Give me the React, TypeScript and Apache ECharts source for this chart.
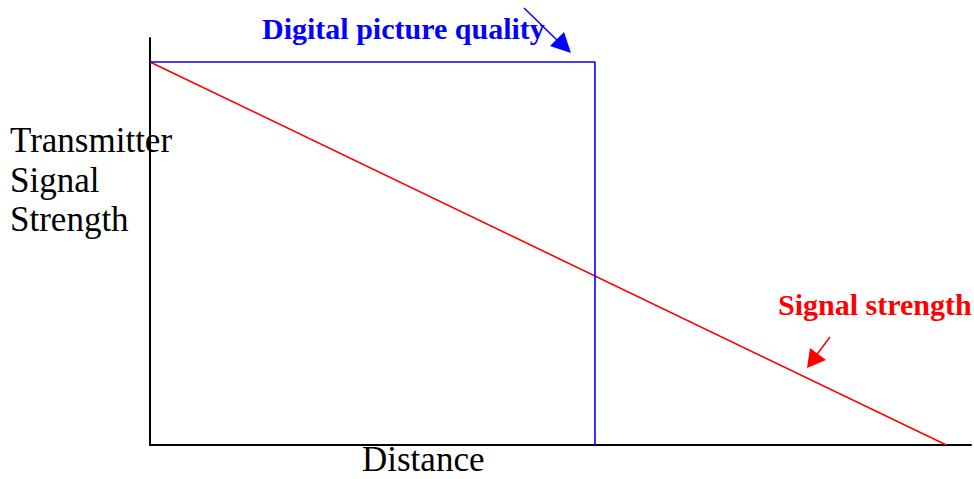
import React, { useEffect, useRef } from "react";
import * as echarts from "echarts";

// Data
const qualityDistance = [0, 54.2, 54.2];
const qualityValues = [16, 16, 0];
const signalDistance = [0, 97];
const signalValues = [16, 0];
const yLabelLines = ["Transmitter", "Signal", "Strength"];
const xLabel = "Distance";
const qualityLabel = "Digital picture quality";
const signalLabel = "Signal strength";

const SERIF = '"Liberation Serif", "Times New Roman", serif';

export default function App() {
  const ref = useRef<HTMLDivElement>(null);
  useEffect(() => {
    document.body.style.margin = "0";
    const chart = echarts.init(ref.current!, null, { renderer: "svg" });
    const option: any = {
      animation: false,
      backgroundColor: "#ffffff",
      grid: { left: 150, right: 3, top: 38, bottom: 34 },
      xAxis: {
        type: "value",
        min: 0,
        max: 100,
        axisLine: { show: true, lineStyle: { color: "#000", width: 2 } },
        axisTick: { show: false },
        axisLabel: { show: false },
        splitLine: { show: false },
      },
      yAxis: {
        type: "value",
        min: 0,
        max: 17,
        axisLine: { show: true, lineStyle: { color: "#000", width: 2 } },
        axisTick: { show: false },
        axisLabel: { show: false },
        splitLine: { show: false },
      },
      series: [
        {
          type: "line",
          data: signalDistance.map((d, i) => [d, signalValues[i]]),
          showSymbol: false,
          lineStyle: { color: "#ff0000", width: 1.6 },
          z: 2,
        },
        {
          type: "line",
          data: qualityDistance.map((d, i) => [d, qualityValues[i]]),
          showSymbol: false,
          lineStyle: { color: "#0000ff", width: 1.6 },
          z: 3,
        },
      ],
      graphic: [
        ...yLabelLines.map((t, i) => ({
          type: "text",
          left: 10,
          top: 123 + i * 39.5,
          style: { text: t, font: `35px ${SERIF}`, fill: "#000" },
        })),
        {
          type: "text",
          left: 362,
          top: 442,
          style: { text: xLabel, font: `35px ${SERIF}`, fill: "#000" },
        },
        {
          type: "text",
          left: 262,
          top: 13,
          style: { text: qualityLabel, font: `bold 30px ${SERIF}`, fill: "#0000ff" },
        },
        {
          type: "text",
          left: 778,
          top: 289,
          style: { text: signalLabel, font: `bold 30px ${SERIF}`, fill: "#ff0000" },
        },
        {
          type: "line",
          shape: { x1: 524, y1: 8, x2: 560, y2: 43 },
          style: { stroke: "#0000ff", lineWidth: 1.5 },
        },
        {
          type: "polygon",
          shape: { points: [[571, 53], [550, 46], [564, 32]] },
          style: { fill: "#0000ff" },
        },
        {
          type: "line",
          shape: { x1: 830, y1: 337, x2: 815, y2: 357 },
          style: { stroke: "#ff0000", lineWidth: 1.5 },
        },
        {
          type: "polygon",
          shape: { points: [[807, 368], [810, 348], [826, 360]] },
          style: { fill: "#ff0000" },
        },
      ],
    };
    chart.setOption(option);
    return () => chart.dispose();
  }, []);
  return (
    <div
      ref={ref}
      style={{ position: "fixed", left: 0, top: 0, width: 974, height: 479 }}
    />
  );
}
